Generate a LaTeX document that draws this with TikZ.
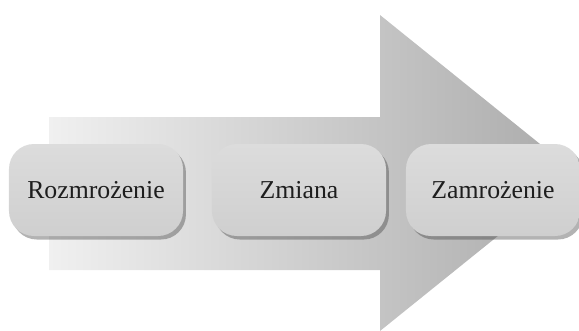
\documentclass[tikz,border=0pt]{standalone}
\usepackage{fontspec}
\setmainfont{Liberation Serif}
\usetikzlibrary{shadows}
\definecolor{arrowlight}{HTML}{F0F0F0}
\definecolor{arrowdark}{HTML}{AAAAAA}
\definecolor{boxtop}{HTML}{DCDCDC}
\definecolor{boxbottom}{HTML}{CFCFCF}
\definecolor{textgray}{HTML}{1E1E1E}
\tikzset{
  phase/.style={rounded corners=0.75cm, minimum width=5.22cm, minimum height=2.76cm,
    top color=boxtop, bottom color=boxbottom, text=textgray,
    font=\fontsize{22}{26}\selectfont,
    drop shadow={shadow xshift=2.5pt, shadow yshift=-3pt, fill=black!75, opacity=0.4}}
}
\begin{document}
\begin{tikzpicture}[x=0.03cm, y=-0.03cm]
    % Frame
    \useasboundingbox (0,0) rectangle (579,331);

    % Big arrow
    \path[left color=arrowlight, right color=arrowdark]
        (49,117) -- (380,117) -- (380,15) -- (576,173) -- (380,331)
        -- (380,270) -- (49,270) -- cycle;

    % Phases
    \node[phase] (rozm) at (96,190) {Rozmrożenie};
    \node[phase] (zmiana) at (299,190) {Zmiana};
    \node[phase] (zamr) at (493,190) {Zamrożenie};
\end{tikzpicture}
\end{document}
